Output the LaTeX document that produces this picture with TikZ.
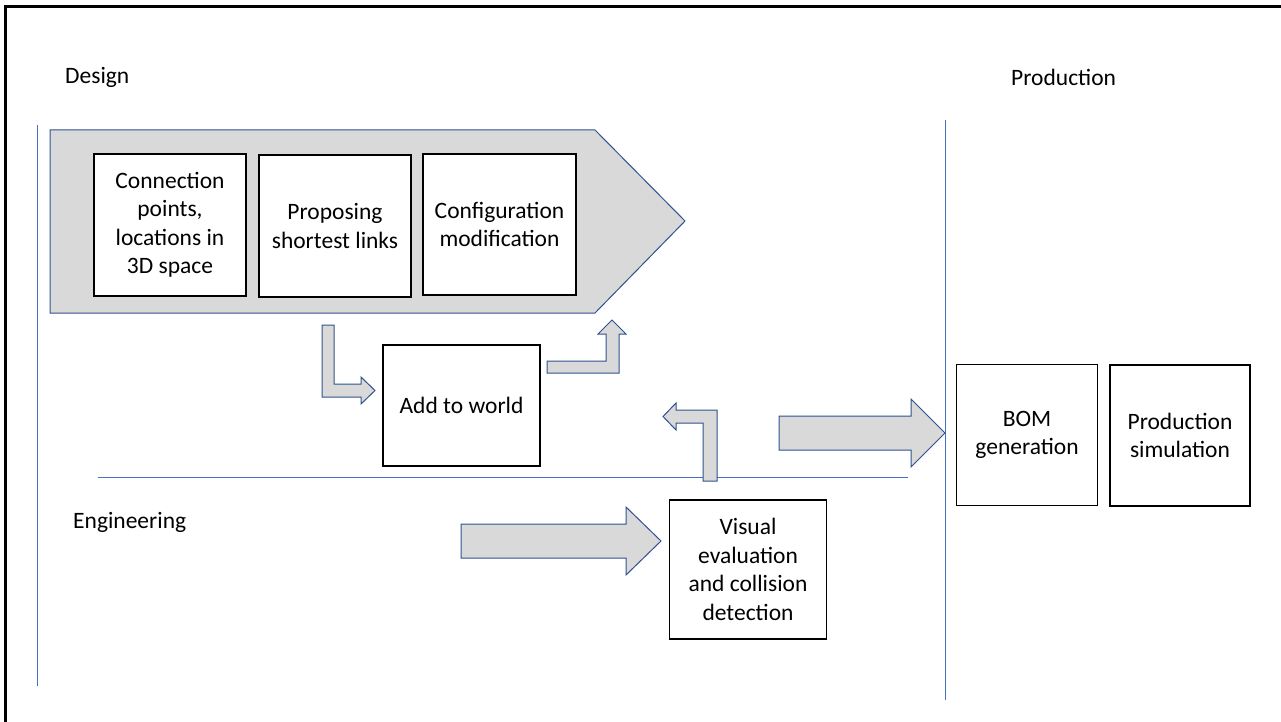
\documentclass[tikz,border=0pt]{standalone}
\usepackage{fontspec}
\setmainfont{Carlito}
\definecolor{arrowfill}{HTML}{D9D9D9}
\definecolor{arrowedge}{HTML}{2F528F}
\definecolor{lanecolor}{HTML}{4472C4}
\tikzset{
  stepbox/.style={draw=black, line width=1.3pt, fill=white, align=center,
    inner sep=0pt, font=\fontsize{23.5}{28.5}\selectfont},
  blockarrow/.style={draw=arrowedge, fill=arrowfill, line width=1pt, line join=miter},
  laneline/.style={draw=lanecolor, line width=0.9pt},
  lanelabel/.style={anchor=west, inner sep=0pt, font=\fontsize{23.5}{28.5}\selectfont}
}
\begin{document}
\begin{tikzpicture}[x=1pt,y=-1pt]
\useasboundingbox (0,0) rectangle (1281,722);
% frame
\draw[line width=3pt] (5,722) -- (5,7) -- (1281,7);
% lanes
\draw[laneline] (37,125) -- (37,686);
\draw[laneline] (945,120) -- (945,700);
\draw[laneline] (98,477) -- (908,477);
\node[lanelabel] (design) at (65,77) {Design};
\node[lanelabel] (production) at (1011,77) {Production};
\node[lanelabel] (engineering) at (73,522) {Engineering};
% design chevron
\draw[blockarrow] (50,130) -- (595,130) -- (685,221) -- (595,313) -- (50,313) -- cycle;
\node[stepbox, minimum width=152pt, minimum height=142pt] (points) at (170,225)
  {Connection\\points,\\locations in\\3D space};
\node[stepbox, minimum width=152pt, minimum height=142pt] (links) at (335,226)
  {Proposing\\shortest links};
\node[stepbox, minimum width=153pt, minimum height=141pt] (config) at (499.5,224.5)
  {Configuration\\modification};
\node[stepbox, minimum width=157pt, minimum height=121pt] (world) at (461.5,405.5)
  {Add to world};
\node[stepbox, minimum width=157pt, minimum height=139pt] (visual) at (748,569.5)
  {Visual\\evaluation\\and collision\\detection};
\node[stepbox, minimum width=141pt, minimum height=141pt] (bom) at (1027,435)
  {BOM\\generation};
\node[stepbox, minimum width=140pt, minimum height=141pt] (prodsim) at (1180,435.5)
  {Production\\simulation};
% block arrows
\draw[blockarrow] (322,325) -- (334,325) -- (334,384) -- (361,384) -- (361,377)
  -- (375,390.5) -- (361,404) -- (361,397) -- (322,397) -- cycle;
\draw[blockarrow] (547,361) -- (606,361) -- (606,334) -- (598,334) -- (612,320)
  -- (626,334) -- (619,334) -- (619,373) -- (547,373) -- cycle;
\draw[blockarrow] (703,481) -- (703,423) -- (676,423) -- (676,430) -- (663,416.5)
  -- (676,403) -- (676,410) -- (717,410) -- (717,481) -- cycle;
\draw[blockarrow] (779,416) -- (911,416) -- (911,399) -- (945,433) -- (911,467)
  -- (911,450) -- (779,450) -- cycle;
\draw[blockarrow] (461,524) -- (626,524) -- (626,507) -- (661,541) -- (626,575)
  -- (626,558) -- (461,558) -- cycle;
\end{tikzpicture}
\end{document}
